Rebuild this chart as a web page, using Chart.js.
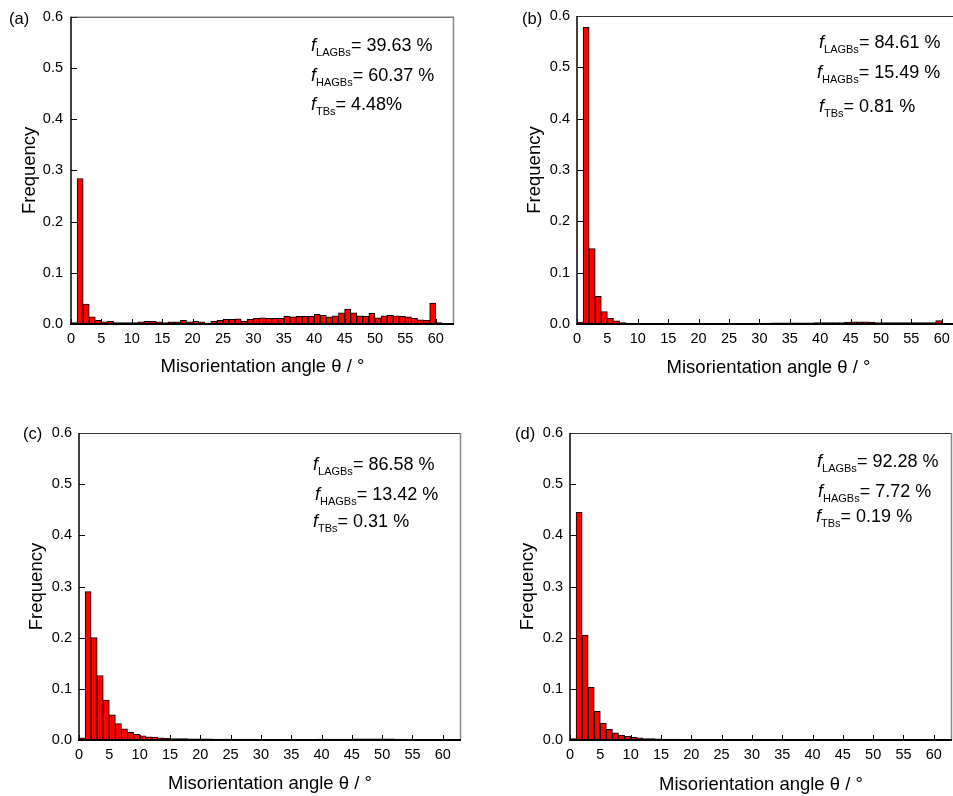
<!DOCTYPE html>
<html>
<head>
<meta charset="utf-8">
<script src="https://cdn.jsdelivr.net/npm/chart.js@4.4.1/dist/chart.umd.min.js"></script>
<style>
  html, body { margin:0; padding:0; background:#fff; }
  body { width:953px; height:796px; overflow:hidden; position:relative; font-family:"Liberation Sans", Arial, sans-serif; color:#000; }
  .panel { position:absolute; }
  .panel canvas { display:block; }
  .ann { position:absolute; font-size:18px; line-height:18px; white-space:nowrap; }
  .ann sub { font-size:11px; line-height:0; vertical-align:-5px; }
  .lbl { position:absolute; font-size:16.5px; line-height:16.5px; white-space:nowrap; }
</style>
</head>
<body>
<div class="panel" style="left:0;top:0"><canvas id="ca" width="470" height="395"></canvas></div>
<div class="panel" style="left:470px;top:0"><canvas id="cb" width="500" height="395"></canvas></div>
<div class="panel" style="left:0;top:400px"><canvas id="cc" width="470" height="396"></canvas></div>
<div class="panel" style="left:470px;top:400px"><canvas id="cd" width="483" height="396"></canvas></div>

<div class="lbl" style="left:9px;top:9.5px">(a)</div>
<div class="lbl" style="left:522px;top:9.5px">(b)</div>
<div class="lbl" style="left:23px;top:425px">(c)</div>
<div class="lbl" style="left:515px;top:425px">(d)</div>

<div class="ann" style="left:311px;top:36px"><i>f</i><sub>LAGBs</sub>= 39.63 %</div>
<div class="ann" style="left:311px;top:66px"><i>f</i><sub>HAGBs</sub>= 60.37 %</div>
<div class="ann" style="left:311px;top:95px"><i>f</i><sub>TBs</sub>= 4.48%</div>

<div class="ann" style="left:819px;top:33px"><i>f</i><sub>LAGBs</sub>= 84.61 %</div>
<div class="ann" style="left:817px;top:63px"><i>f</i><sub>HAGBs</sub>= 15.49 %</div>
<div class="ann" style="left:819px;top:96.5px"><i>f</i><sub>TBs</sub>= 0.81 %</div>

<div class="ann" style="left:313px;top:455px"><i>f</i><sub>LAGBs</sub>= 86.58 %</div>
<div class="ann" style="left:315px;top:485px"><i>f</i><sub>HAGBs</sub>= 13.42 %</div>
<div class="ann" style="left:313px;top:511.5px"><i>f</i><sub>TBs</sub>= 0.31 %</div>

<div class="ann" style="left:817px;top:451.5px"><i>f</i><sub>LAGBs</sub>= 92.28 %</div>
<div class="ann" style="left:818px;top:481.5px"><i>f</i><sub>HAGBs</sub>= 7.72 %</div>
<div class="ann" style="left:816px;top:507px"><i>f</i><sub>TBs</sub>= 0.19 %</div>

<script>
// Bin centres of 1° misorientation bins (degrees)
const binCenters = [0.5,1.5,2.5,3.5,4.5,5.5,6.5,7.5,8.5,9.5,
  10.5,11.5,12.5,13.5,14.5,15.5,16.5,17.5,18.5,19.5,
  20.5,21.5,22.5,23.5,24.5,25.5,26.5,27.5,28.5,29.5,
  30.5,31.5,32.5,33.5,34.5,35.5,36.5,37.5,38.5,39.5,
  40.5,41.5,42.5,43.5,44.5,45.5,46.5,47.5,48.5,49.5,
  50.5,51.5,52.5,53.5,54.5,55.5,56.5,57.5,58.5,59.5,
  60.5,61.5,62.5];

const xTicks = [0,5,10,15,20,25,30,35,40,45,50,55,60];
const xTickLabels = ['0','5','10','15','20','25','30','35','40','45','50','55','60'];
const yTicks = [0,0.1,0.2,0.3,0.4,0.5,0.6];
const yTickLabels = ['0.0','0.1','0.2','0.3','0.4','0.5','0.6'];

// (a)
const freqA = [0.003,0.284,0.039,0.014,0.007,0.004,0.005,0.003,0.003,0.003,
  0.003,0.004,0.005,0.005,0.004,0.003,0.004,0.004,0.007,0.004,
  0.005,0.004,0.002,0.005,0.007,0.009,0.009,0.010,0.005,0.009,
  0.011,0.012,0.011,0.011,0.011,0.015,0.014,0.015,0.015,0.015,
  0.019,0.017,0.014,0.016,0.022,0.029,0.022,0.016,0.015,0.021,
  0.012,0.016,0.017,0.016,0.015,0.014,0.011,0.008,0.007,0.041,
  0.003,0.001,0.0005];
// (b)
const freqB = [0.0035,0.578,0.147,0.054,0.024,0.011,0.006,0.003,0.002,0.0015,
  0.001,0.0008,0.0008,0.0008,0.0007,0.0007,0.0007,0.0008,0.0008,0.0009,
  0.001,0.001,0.0012,0.0013,0.0015,0.0015,0.0014,0.0013,0.0013,0.0014,
  0.002,0.002,0.0022,0.0022,0.0024,0.0024,0.0024,0.0025,0.0025,0.0026,
  0.0027,0.0027,0.0028,0.003,0.0038,0.0042,0.004,0.004,0.0038,0.003,
  0.0028,0.0028,0.0028,0.0027,0.0028,0.0028,0.0026,0.0026,0.0028,0.0065,
  0.0008,0.0002,0];
// (c)
const freqC = [0.004,0.290,0.200,0.126,0.078,0.049,0.032,0.022,0.015,0.011,
  0.008,0.006,0.0055,0.004,0.0035,0.003,0.0028,0.0026,0.0025,0.0024,
  0.0022,0.0021,0.002,0.002,0.0019,0.0018,0.0017,0.0016,0.0016,0.0015,
  0.0015,0.0015,0.0015,0.0015,0.0015,0.0015,0.0015,0.0015,0.0015,0.0016,
  0.0016,0.0017,0.0017,0.0018,0.0019,0.0022,0.0022,0.0021,0.0022,0.0022,
  0.0024,0.0021,0.002,0.002,0.0019,0.0015,0.0014,0.0013,0.0012,0.0012,
  0.0004,0,0];
// (d)
const freqD = [0.003,0.445,0.205,0.103,0.056,0.033,0.021,0.014,0.0095,0.007,
  0.005,0.004,0.003,0.0026,0.0022,0.002,0.0018,0.0016,0.0015,0.0014,
  0.0013,0.0012,0.0012,0.0011,0.0011,0.001,0.001,0.001,0.001,0.001,
  0.0009,0.0009,0.0009,0.0009,0.0009,0.0009,0.0009,0.0009,0.0009,0.001,
  0.001,0.001,0.001,0.001,0.0011,0.0012,0.0012,0.0012,0.0011,0.0011,
  0.0011,0.001,0.001,0.001,0.001,0.0009,0.0009,0.0008,0.0008,0.0008,
  0.0003,0,0];

const FONT = '"Liberation Sans", Arial, sans-serif';
const xTitle = 'Misorientation angle θ / °';
const yTitle = 'Frequency';

const framePlugin = {
  id: 'frame',
  afterDraw(chart) {
    const {ctx, chartArea: {left, top, right, bottom}, scales: {x, y}} = chart;
    ctx.save();
    ctx.strokeStyle = '#000';
    ctx.lineWidth = 1;
    x.ticks.forEach(t => {
      const px = Math.round(x.getPixelForValue(t.value)) + 0.5;
      ctx.beginPath(); ctx.moveTo(px, bottom); ctx.lineTo(px, bottom - 5); ctx.stroke();
    });
    y.ticks.forEach(t => {
      const py = Math.round(y.getPixelForValue(t.value)) + 0.5;
      ctx.beginPath(); ctx.moveTo(left, py); ctx.lineTo(left + 6, py); ctx.stroke();
    });
    // top border
    ctx.strokeStyle = '#333'; ctx.lineWidth = 1;
    ctx.beginPath(); ctx.moveTo(left, top + 0.5); ctx.lineTo(right, top + 0.5); ctx.stroke();
    // right border
    ctx.strokeStyle = '#888'; ctx.lineWidth = 1.5;
    ctx.beginPath(); ctx.moveTo(right - 0.5, top); ctx.lineTo(right - 0.5, bottom); ctx.stroke();
    // left axis
    ctx.strokeStyle = '#000'; ctx.lineWidth = 1.5;
    ctx.beginPath(); ctx.moveTo(left, top); ctx.lineTo(left, bottom + 1); ctx.stroke();
    // bottom axis
    ctx.lineWidth = 2;
    ctx.beginPath(); ctx.moveTo(left - 0.75, bottom); ctx.lineTo(right, bottom); ctx.stroke();
    ctx.restore();
  }
};

function makeChart(id, values, cfg) {
  const data = binCenters.map((c, i) => ({x: c, y: values[i]}));
  return new Chart(document.getElementById(id), {
    type: 'bar',
    data: {
      datasets: [{
        data: data,
        backgroundColor: '#ff0000',
        borderColor: '#000',
        borderWidth: 1,
        barPercentage: 1,
        categoryPercentage: 1,
        borderSkipped: 'bottom'
      }]
    },
    options: {
      responsive: false,
      animation: false,
      events: [],
      layout: {padding: {top: cfg.padTop, right: cfg.padRight, left: 0, bottom: 0}},
      plugins: {legend: {display: false}, tooltip: {enabled: false}},
      scales: {
        x: {
          type: 'linear', min: 0, max: 63, offset: false,
          grid: {display: false, drawTicks: false},
          border: {display: false},
          afterBuildTicks: s => { s.ticks = xTicks.map(v => ({value: v})); },
          afterFit: s => { s.height = cfg.xH; },
          ticks: {
            color: '#000', padding: 6, maxRotation: 0, autoSkip: false,
            font: {family: FONT, size: 14.5},
            callback: (v, i) => xTickLabels[i]
          },
          title: {display: true, text: xTitle, color: '#000',
            font: {family: FONT, size: 18.5}, padding: {top: 0, bottom: cfg.xTitlePad}}
        },
        y: {
          type: 'linear', min: 0, max: 0.6,
          grid: {display: false, drawTicks: false},
          border: {display: false},
          afterBuildTicks: s => { s.ticks = yTicks.map(v => ({value: v})); },
          afterFit: s => { s.width = cfg.yW; },
          ticks: {
            color: '#000', padding: cfg.yTickPad, autoSkip: false,
            font: {family: FONT, size: 14.5},
            callback: (v, i) => yTickLabels[i]
          },
          title: {display: true, text: yTitle, color: '#000',
            font: {family: FONT, size: 18.5}, padding: {top: cfg.yTitlePad, bottom: 0}}
        }
      }
    },
    plugins: [framePlugin]
  });
}

makeChart('ca', freqA, {padTop: 16, padRight: 16, xH: 71, yW: 71, xTitlePad: 17, yTitlePad: 19, yTickPad: 8});
makeChart('cb', freqB, {padTop: 16, padRight: 10, xH: 71, yW: 107, xTitlePad: 16, yTitlePad: 53.4, yTickPad: 7});
makeChart('cc', freqC, {padTop: 33, padRight: 9, xH: 56, yW: 79, xTitlePad: 0.5, yTitlePad: 26, yTickPad: 7});
makeChart('cd', freqD, {padTop: 33, padRight: 1, xH: 56, yW: 100, xTitlePad: 0, yTitlePad: 46.4, yTickPad: 7});
</script>
</body>
</html>
